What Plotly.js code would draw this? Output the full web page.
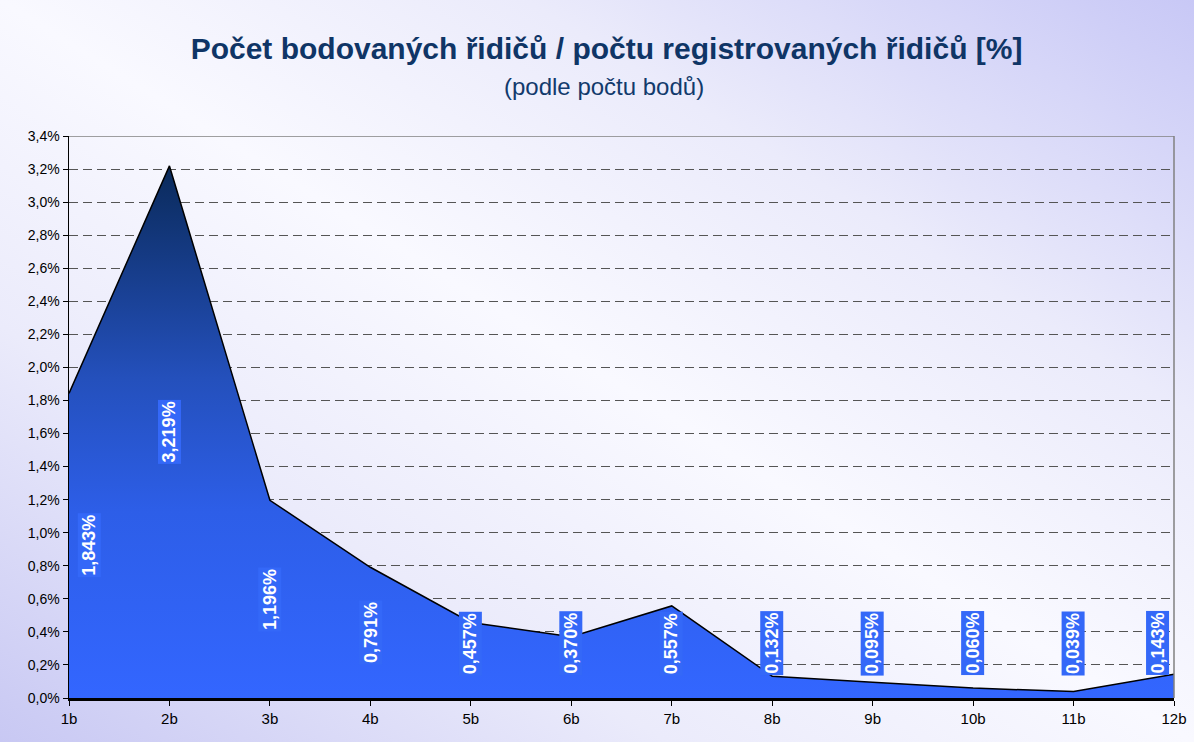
<!DOCTYPE html>
<html>
<head>
<meta charset="utf-8">
<script src="https://cdn.plot.ly/plotly-3.0.1.min.js"></script>
<style>
  html, body { margin: 0; padding: 0; }
  body { width: 1194px; height: 742px; overflow: hidden;
    background: linear-gradient(to top right, #c8c8f3 0%, #ebebfb 28%, #f9f9ff 50%, #ebebfb 72%, #c8c8f6 100%); }
  #chart { width: 1194px; height: 742px; }
</style>
</head>
<body>
<div id="chart"></div>
<script>
const categories = ['1b','2b','3b','4b','5b','6b','7b','8b','9b','10b','11b','12b'];
const values = [1.843, 3.219, 1.196, 0.791, 0.457, 0.370, 0.557, 0.132, 0.095, 0.060, 0.039, 0.143];
const labels = ['1,843%','3,219%','1,196%','0,791%','0,457%','0,370%','0,557%','0,132%','0,095%','0,060%','0,039%','0,143%'];
const yTicks = [0,0.2,0.4,0.6,0.8,1.0,1.2,1.4,1.6,1.8,2.0,2.2,2.4,2.6,2.8,3.0,3.2,3.4];
const yTickText = yTicks.map(v => v.toFixed(1).replace('.', ',') + '%');

const FONT = 'Liberation Sans, Arial, sans-serif';

const trace = {
  x: categories, y: values, type: 'scatter', mode: 'lines',
  fill: 'tozeroy',
  line: { color: '#000000', width: 1.5 },
  fillgradient: { type: 'vertical',
    colorscale: [[0,'#3366ff'],[0.35,'#2d5ee8'],[0.6,'#2450bc'],[1,'#0a2a5a']] },
  hoverinfo: 'skip'
};

const last = categories.length - 1;
const annotations = categories.map((c, i) => ({
  x: c, y: Math.max(values[i] / 2, 0.33), xref: 'x', yref: 'y',
  xanchor: i === 0 ? 'left' : (i === last ? 'right' : 'center'),
  xshift: i === 0 ? 8 : (i === last ? -4 : 0),
  text: labels[i], showarrow: false, textangle: -90,
  font: { family: FONT, size: 18, color: '#ffffff', weight: 'bold' },
  bgcolor: '#3468f8', borderpad: 1
}));
annotations.push({
  xref: 'paper', yref: 'paper', x: 0.484, y: 1.0, yshift: 50, xanchor: 'center', yanchor: 'middle',
  text: '(podle počtu bodů)', showarrow: false,
  font: { family: FONT, size: 24, color: '#123a6c' }
});

const layout = {
  width: 1194, height: 742,
  margin: { l: 69, r: 20, t: 136, b: 44 },
  paper_bgcolor: 'rgba(0,0,0,0)', plot_bgcolor: 'rgba(0,0,0,0)',
  showlegend: false,
  title: { text: '<b>Počet bodovaných řidičů / počtu registrovaných řidičů [%]</b>',
    x: 0.508, xanchor: 'center', y: 0.935, yanchor: 'middle',
    font: { family: FONT, size: 30, color: '#0f3566' } },
  xaxis: { type: 'category', range: [0, 11], showgrid: false, zeroline: false,
    showline: true, linecolor: '#000000', linewidth: 2.5, mirror: false,
    ticks: 'outside', ticklen: 5, tickcolor: '#000000',
    tickfont: { family: FONT, size: 15, color: '#000000' } },
  yaxis: { range: [0, 3.4], tickvals: yTicks, ticktext: yTickText,
    showgrid: true, gridcolor: '#555555', griddash: '9px,5px', gridwidth: 1,
    zeroline: false, showline: true, linecolor: '#000000', linewidth: 1.5,
    ticks: 'outside', ticklen: 5, tickcolor: '#000000',
    tickfont: { family: FONT, size: 14, color: '#000000' } },
  shapes: [
    { type: 'line', xref: 'paper', yref: 'y', x0: 0, x1: 1, y0: 3.4, y1: 3.4, line: { color: '#808080', width: 1.5 } },
    { type: 'line', xref: 'paper', yref: 'paper', x0: 1, x1: 1, y0: 0, y1: 1, line: { color: '#808080', width: 1.5 } }
  ],
  annotations: annotations
};

Plotly.newPlot('chart', [trace], layout, { displayModeBar: false, staticPlot: true });
</script>
</body>
</html>
